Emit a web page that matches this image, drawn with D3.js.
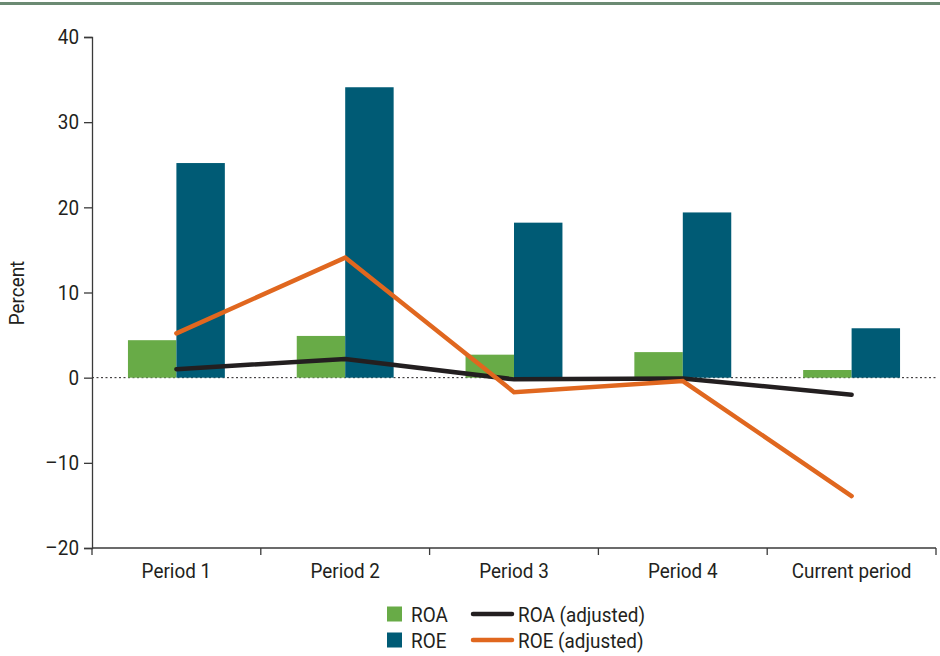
<!DOCTYPE html>
<html>
<head>
<meta charset="utf-8">
<script src="https://cdn.jsdelivr.net/npm/d3@7"></script>
<style>
  html, body { margin: 0; padding: 0; background: #fff; }
  svg text { font-family: Roboto, "Liberation Sans", sans-serif; fill: #231f20; }
</style>
</head>
<body>
<svg id="chart" width="940" height="656"></svg>
<script>
// Return measures by period
const categories = ["Period 1", "Period 2", "Period 3", "Period 4", "Current period"];
const roa = [4.4, 4.9, 2.7, 3.0, 0.9];
const roe = [25.2, 34.1, 18.2, 19.4, 5.8];
const roaAdjusted = [1.0, 2.2, -0.2, -0.1, -2.0];
const roeAdjusted = [5.2, 14.1, -1.7, -0.4, -13.9];
const yTicks = [-20, -10, 0, 10, 20, 30, 40];

const colors = { roa: "#68ab47", roe: "#005b75", roaAdj: "#231f20", roeAdj: "#e0671f" };

const FONT_SIZE = 21;
const NARROW = 0.9; // horizontal squeeze for a condensed look

const svg = d3.select("#chart");
const W = 940;

// Condensed text helper: keeps anchor position, squeezes glyphs horizontally
function narrowText(sel) {
  sel.each(function () {
    const t = d3.select(this);
    const xv = +(t.attr("x") || 0);
    t.attr("x", xv / NARROW)
     .attr("transform", `scale(${NARROW},1)`)
     .style("font-size", FONT_SIZE + "px");
  });
}

// Top rule
svg.append("rect").attr("x", 0).attr("y", 2).attr("width", W).attr("height", 3).attr("fill", "#6b8a73");

const plot = { left: 92, right: 936, top: 37, bottom: 548 };

const x = d3.scaleBand().domain(categories).range([plot.left, plot.right]).paddingInner(0).paddingOuter(0);
const y = d3.scaleLinear().domain([-20, 40]).range([plot.bottom, plot.top]);

const barW = x.bandwidth() * 0.287;

// Zero reference line (dotted)
svg.append("line")
  .attr("x1", plot.left).attr("x2", plot.right)
  .attr("y1", y(0)).attr("y2", y(0))
  .attr("stroke", "#231f20").attr("stroke-width", 1)
  .attr("stroke-dasharray", "2,2.5");

// Bars
const groups = svg.append("g").selectAll("g").data(categories).join("g");
groups.append("rect")
  .attr("x", d => x(d) + x.bandwidth() / 2 - barW)
  .attr("width", barW)
  .attr("y", (d, i) => y(Math.max(0, roa[i])))
  .attr("height", (d, i) => Math.abs(y(roa[i]) - y(0)))
  .attr("fill", colors.roa);
groups.append("rect")
  .attr("x", d => x(d) + x.bandwidth() / 2)
  .attr("width", barW)
  .attr("y", (d, i) => y(Math.max(0, roe[i])))
  .attr("height", (d, i) => Math.abs(y(roe[i]) - y(0)))
  .attr("fill", colors.roe);

// Lines
const line = d3.line()
  .x((d, i) => x(categories[i]) + x.bandwidth() / 2)
  .y(d => y(d));
svg.append("path").datum(roaAdjusted).attr("d", line)
  .attr("fill", "none").attr("stroke", colors.roaAdj).attr("stroke-width", 4.5)
  .attr("stroke-linecap", "round").attr("stroke-linejoin", "miter");
svg.append("path").datum(roeAdjusted).attr("d", line)
  .attr("fill", "none").attr("stroke", colors.roeAdj).attr("stroke-width", 4.5)
  .attr("stroke-linecap", "round").attr("stroke-linejoin", "miter");

// Y axis
const yAxis = svg.append("g")
  .attr("transform", `translate(${plot.left},0)`)
  .call(d3.axisLeft(y).tickValues(yTicks).tickSize(8).tickPadding(5)
    .tickFormat(d => d < 0 ? "\u2013" + Math.abs(d) : d));
yAxis.attr("font-family", null).attr("font-size", null);
yAxis.select(".domain").attr("stroke", "#3a3a3a").attr("stroke-width", 1.3);
yAxis.selectAll(".tick line").attr("stroke", "#3a3a3a").attr("stroke-width", 1.3);
yAxis.selectAll("text").attr("fill", "#231f20").call(narrowText);

// X axis with ticks at band boundaries
const xAxisG = svg.append("g").attr("transform", `translate(0,${plot.bottom})`);
xAxisG.append("line").attr("x1", plot.left).attr("x2", plot.right)
  .attr("stroke", "#3a3a3a").attr("stroke-width", 1.3);
const boundaries = categories.map(c => x(c)).concat([plot.right]);
xAxisG.selectAll("line.tk").data(boundaries).join("line").attr("class", "tk")
  .attr("x1", d => d).attr("x2", d => d).attr("y1", 0).attr("y2", 7)
  .attr("stroke", "#3a3a3a").attr("stroke-width", 1.3);
xAxisG.selectAll("text").data(categories).join("text")
  .attr("x", d => x(d) + x.bandwidth() / 2).attr("y", 30)
  .attr("text-anchor", "middle").text(d => d).call(narrowText);

// Y axis title
svg.append("text")
  .attr("transform", `translate(24,293) rotate(-90) scale(${NARROW},1)`)
  .attr("text-anchor", "middle").style("font-size", FONT_SIZE + "px").text("Percent");

// Legend
const legend = svg.append("g");
const legendRows = [
  { color: colors.roa, label: "ROA", lineColor: colors.roaAdj, lineLabel: "ROA (adjusted)", y: 614 },
  { color: colors.roe, label: "ROE", lineColor: colors.roeAdj, lineLabel: "ROE (adjusted)", y: 640 }
];
legendRows.forEach(r => {
  legend.append("rect").attr("x", 387).attr("y", r.y - 7.5).attr("width", 15).attr("height", 15).attr("fill", r.color);
  legend.append("text").attr("x", 411).attr("y", r.y + 8).text(r.label).call(narrowText);
  legend.append("line").attr("x1", 473).attr("x2", 512).attr("y1", r.y).attr("y2", r.y)
    .attr("stroke", r.lineColor).attr("stroke-width", 4.5).attr("stroke-linecap", "round");
  legend.append("text").attr("x", 518).attr("y", r.y + 8).text(r.lineLabel).call(narrowText);
});
</script>
</body>
</html>
